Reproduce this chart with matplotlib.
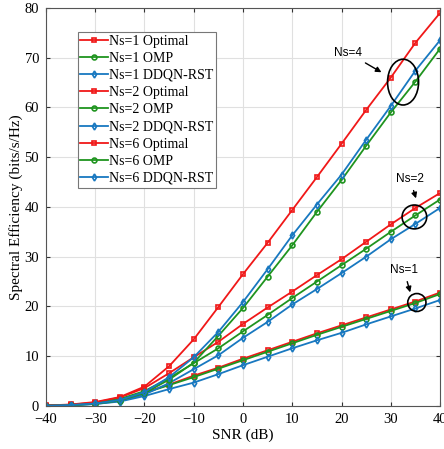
import numpy as np
from matplotlib import pyplot as plt
from matplotlib.patches import Ellipse

snr = [-40, -35, -30, -25, -20, -15, -10, -5, 0, 5, 10, 15, 20, 25, 30, 35, 40]

ns1_opt = [0.07, 0.2, 0.6, 1.3, 2.7, 4.3, 6.1, 7.7, 9.5, 11.2, 12.9, 14.6, 16.2, 17.8, 19.4, 21.0, 22.8]
ns1_omp = [0.06, 0.2, 0.55, 1.3, 2.6, 4.2, 5.8, 7.5, 9.2, 10.9, 12.6, 14.3, 15.9, 17.5, 19.1, 20.7, 22.5]
ns1_dqn = [0.05, 0.15, 0.4, 0.9, 2.0, 3.4, 4.7, 6.4, 8.2, 9.9, 11.6, 13.2, 14.7, 16.4, 18.0, 19.6, 21.3]

ns2_opt = [0.08, 0.25, 0.7, 1.7, 3.6, 6.6, 9.8, 12.9, 16.5, 19.8, 23.0, 26.3, 29.5, 33.0, 36.5, 39.8, 42.8]
ns2_omp = [0.06, 0.2, 0.55, 1.4, 3.0, 5.6, 8.6, 11.6, 15.0, 18.3, 21.7, 25.0, 28.3, 31.6, 35.0, 38.3, 41.5]
ns2_dqn = [0.05, 0.15, 0.4, 1.0, 2.3, 4.6, 7.4, 10.2, 13.7, 16.9, 20.4, 23.5, 26.7, 30.0, 33.5, 36.6, 39.8]

ns6_opt = [0.1, 0.3, 0.8, 1.8, 3.9, 8.0, 13.4, 19.9, 26.5, 32.8, 39.4, 46.0, 52.7, 59.5, 66.0, 73.0, 79.0]
ns6_omp = [0.05, 0.15, 0.45, 1.1, 2.6, 5.3, 8.7, 14.1, 19.7, 26.0, 32.3, 39.0, 45.4, 52.3, 59.0, 65.2, 71.8]
ns6_dqn = [0.05, 0.2, 0.5, 1.2, 2.8, 5.8, 9.8, 14.9, 20.9, 27.5, 34.3, 40.5, 46.5, 53.5, 60.3, 67.4, 73.5]

red = '#f01818'
green = '#1f941f'
blue = '#1878c0'

plt.rcParams['font.family'] = ['Liberation Serif', 'DejaVu Serif']

fig = plt.figure(figsize=(4.44, 4.49), dpi=100)
ax = fig.add_axes([0.1036, 0.0958, 0.8874, 0.8864])

series = [
    (ns1_opt, red, 's', 'Ns=1 Optimal'),
    (ns1_omp, green, 'o', 'Ns=1 OMP'),
    (ns1_dqn, blue, 'd', 'Ns=1 DDQN-RST'),
    (ns2_opt, red, 's', 'Ns=2 Optimal'),
    (ns2_omp, green, 'o', 'Ns=2 OMP'),
    (ns2_dqn, blue, 'd', 'Ns=2 DDQN-RST'),
    (ns6_opt, red, 's', 'Ns=6 Optimal'),
    (ns6_omp, green, 'o', 'Ns=6 OMP'),
    (ns6_dqn, blue, 'd', 'Ns=6 DDQN-RST'),
]
for y, c, m, lab in series:
    ax.plot(snr, y, color=c, marker=m, markersize=3.5, markerfacecolor='none',
            markeredgewidth=1.2, linewidth=1.3, label=lab)

ax.set_xlim(-40, 40)
ax.set_ylim(0, 80)
ax.set_xticks(np.arange(-40, 41, 10))
ax.set_yticks(np.arange(0, 81, 10))
ax.tick_params(direction='in', top=True, right=True, labelsize=10.5, length=3,
               colors='#333333', pad=5)
for lbl in ax.get_xticklabels() + ax.get_yticklabels():
    lbl.set_color('black')
for s in ax.spines.values():
    s.set_color('#555555')
ax.grid(True, color='#e0e0e0', linewidth=0.8)
ax.set_xlabel('SNR (dB)', fontsize=11, labelpad=2)
ax.set_ylabel('Spectral Efficiency (bits/s/Hz)', fontsize=11, labelpad=1)

leg = ax.legend(loc='upper left', bbox_to_anchor=(0.08, 0.94), fontsize=10,
                handlelength=2.0, handletextpad=0.1, borderpad=0.2, labelspacing=0.3,
                fancybox=False, framealpha=1, borderaxespad=0)
leg.get_frame().set_edgecolor('#777777')
leg.get_frame().set_linewidth(0.8)

# annotations
for cx, cy, w, h in [(32.5, 65.1, 6.3, 9.2), (34.8, 38.0, 5.0, 4.8), (35.3, 20.8, 3.7, 3.6)]:
    ax.add_patch(Ellipse((cx, cy), w, h, fill=False, edgecolor='black', linewidth=1.2, zorder=5))

ann = dict(fontsize=8.5, family=['Liberation Sans', 'DejaVu Sans'],
           arrowprops=dict(arrowstyle='-|>', color='black', lw=1.0, mutation_scale=8))
ax.annotate('Ns=4', xy=(28.6, 66.8), xytext=(21.3, 71.0), ha='center', va='center', **ann)
ax.annotate('Ns=2', xy=(35.3, 41.2), xytext=(33.9, 45.6), ha='center', va='center', **ann)
ax.annotate('Ns=1', xy=(34.1, 22.3), xytext=(32.7, 27.3), ha='center', va='center', **ann)

fig.savefig('out.png', dpi=100)
